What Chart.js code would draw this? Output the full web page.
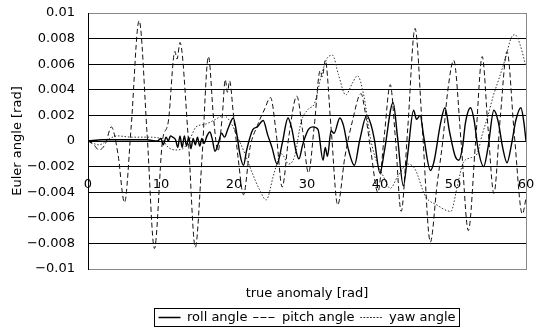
<!DOCTYPE html>
<html><head><meta charset="utf-8">
<script src="https://cdn.jsdelivr.net/npm/chart.js@4.4.1/dist/chart.umd.min.js"></script>
<style>html,body{margin:0;padding:0;background:#fff}canvas{display:block}</style>
</head><body>
<canvas id="c" width="543" height="331"></canvas>
<script>
const seriesNames = ['roll angle', 'pitch angle', 'yaw angle'];

const rollX = [0,2,4,6,8,9.5,10,10.3,10.7,11,11.3,11.6,12,12.3,12.6,12.9,13.2,13.5,13.8,14.1,14.4,14.7,15,15.3,15.6,15.9,16.3,16.7,17,17.4,17.8,18.3,18.7,19.2,19.9,20.4,20.8,21.3,21.7,22.2,22.6,23.2,24,24.6,25.2,25.9,26.6,27.4,27.9,28.5,28.9,29.4,30.2,30.8,31.5,32.2,32.5,32.8,33.3,33.7,34.5,35,35.6,36.5,37.2,38.2,38.8,39.2,40,40.6,41.8,42.4,43.2,43.8,44.6,45,45.5,46,46.9,47.4,48.3,48.9,49.5,50.3,50.8,51.3,51.7,52.4,52.9,53.4,54.2,54.8,55.6,56.2,56.8,57.4,58,58.6,59.3,59.7,60];
const rollY = [0,0.0001,0.0001,0.0001,0.0001,0,0.0002,-0.0003,0.0003,0,0.0004,0.0003,0.0001,-0.0005,0.0004,-0.0005,0.0004,-0.0004,0.0003,-0.0006,0.0002,-0.0003,0.0003,-0.0004,0.0002,-0.0002,0.0004,0.0007,0.0002,-0.0008,-0.0003,0.0006,0.0003,0.0010,0.0018,0.0005,-0.0010,-0.0019,-0.0008,0.0003,0.0009,0.0011,0.0016,0.0005,-0.0005,-0.0018,-0.0002,0.0018,0.0010,-0.0008,-0.0014,-0.0003,0.0009,0.0011,0.0009,-0.0015,-0.0005,-0.0012,0.0008,0.0006,0.0018,0.0012,-0.0005,-0.0019,0,0.0020,0.0012,0.0002,-0.0025,-0.0008,0.0030,0.0003,-0.0035,-0.0010,0.0024,0.0017,0.0020,0.0003,-0.0023,-0.0016,0.0014,0.0026,0.0008,-0.0012,-0.0015,-0.0005,0.0014,0.0026,0.0016,-0.0005,-0.0020,-0.0005,0.0024,0.0015,-0.0005,-0.0017,-0.0003,0.0016,0.0026,0.0015,0];

const pitchX = [0,0.8,1.5,2.4,3.2,4.1,5.0,5.9,7.0,8.1,9.1,10.2,11.0,11.9,12.2,12.6,13.7,14.7,15.6,16.5,17.2,17.8,18.4,18.8,19.1,19.4,19.9,20.6,21.3,22.2,23.2,24.2,25.0,25.8,26.6,27.5,28.6,29.4,30.2,31.0,31.8,32.1,32.5,33.3,34.2,35.2,36.2,37.4,37.9,38.8,39.7,40.6,41.4,42.1,42.9,43.8,44.8,45.8,46.9,47.8,48.6,49.3,50.1,51.1,52.1,53.1,54.0,54.8,55.6,56.5,57.4,58.4,59.5,60];
const pitchY = [0,-0.0003,-0.0007,-0.0002,0.0011,-0.0010,-0.0048,0.0010,0.0094,0.0005,-0.0084,0,0.0015,0.0070,0.0064,0.0077,0.0005,-0.0083,-0.0015,0.0066,0.0018,-0.0008,0.0020,0.0048,0.0038,0.0047,0.0022,-0.0015,-0.0042,-0.0005,0.0012,0.0025,0.0034,0.0005,-0.0036,0.0003,0.0035,0.0008,-0.0025,0.0012,0.0055,0.0050,0.0063,0.0010,-0.0050,-0.0012,0.0015,0.0037,0.0025,-0.0010,-0.0040,0.0005,0.0044,0.0003,-0.0055,0.0010,0.0088,0.0010,-0.0079,-0.0035,0,0.0040,0.0063,0,-0.0070,0,0.0066,0.0010,-0.0041,0.0020,0.0070,0.0005,-0.0057,-0.0045];

const yawX = [0,1.5,3,4,6,8,10,11,12,13,14,14.8,16,17.5,18.5,19.5,20.5,21.5,22.5,23.5,24.4,25.5,26.5,27.5,28.3,29.2,30.2,31,32,32.8,33.5,34.3,35.3,36.2,36.9,37.8,38.6,39.3,40.5,41.4,42.4,43.8,44.8,46.2,47.8,49.7,50.6,51.4,52.5,53.3,54,54.8,55.5,56.2,57.2,58,58.5,59.2,60];
const yawY = [0,-0.0003,0.0002,0.0004,0.0003,0.0003,0.0002,-0.0005,-0.0007,-0.0006,0.0002,0.0011,0.0013,0.0017,0.0020,0.0015,0.0003,-0.0010,-0.0025,-0.0038,-0.0046,-0.0025,-0.0010,-0.0018,-0.0012,0.0015,0.0025,0.0029,0.0052,0.0065,0.0067,0.0052,0.0036,0.0045,0.0051,0.0035,0.0005,-0.0012,-0.0028,-0.0037,-0.0028,-0.0018,-0.0022,-0.0043,-0.0050,-0.0055,-0.0035,-0.0017,-0.0013,-0.0010,0.0005,0.0020,0.0035,0.0047,0.0065,0.0081,0.0083,0.0075,0.0058];

const xTickValues = [0,10,20,30,40,50,60];
const xTickLabels = ['0','10','20','30','40','50','60'];
const yTickValues = [-0.01,-0.008,-0.006,-0.004,-0.002,0,0.002,0.004,0.006,0.008,0.01];
const yTickLabels = ['\u22120.01','\u22120.008','\u22120.006','\u22120.004','\u22120.002','0','0.002','0.004','0.006','0.008','0.01'];
const xTitle = 'true anomaly [rad]';
const yTitle = 'Euler angle [rad]';

function pts(xs, ys) { return xs.map((x, i) => ({x: x, y: ys[i]})); }

Chart.defaults.font.family = 'DejaVu Sans';
Chart.defaults.font.size = 13;
Chart.defaults.color = '#000';

const frame = {
  id: 'frame',
  afterDraw(c) {
    const ctx = c.ctx, a = c.chartArea;
    ctx.save();
    ctx.strokeStyle = '#888';
    ctx.lineWidth = 1;
    ctx.beginPath();
    const rx = Math.round(a.right) + 0.5;
    ctx.moveTo(rx, a.top); ctx.lineTo(rx, a.bottom + 0.5);
    ctx.stroke();
    const hb = c.legend.legendHitBoxes;
    if (hb && hb.length) {
      const l = Math.min(...hb.map(h => h.left)) - 5;
      const r = Math.max(...hb.map(h => h.left + h.width)) + 3;
      const t = hb[0].top - 3;
      const b = hb[0].top + hb[0].height + 2;
      ctx.strokeStyle = '#000';
      ctx.strokeRect(Math.round(l) + 0.5, Math.round(t) + 0.5, Math.round(r - l), Math.round(b - t));
    }
    ctx.restore();
  }
};

function noPad(s) { s.paddingTop = 0; s.paddingBottom = 0; s.paddingLeft = 0; s.paddingRight = 0; }

const base = {fill: false, pointRadius: 0, backgroundColor: 'rgba(0,0,0,0)', cubicInterpolationMode: 'monotone'};

new Chart(document.getElementById('c'), {
  type: 'line',
  data: {
    datasets: [
      Object.assign({label: seriesNames[0], data: pts(rollX, rollY), borderColor: '#000', borderWidth: 1.4}, base),
      Object.assign({label: seriesNames[1], data: pts(pitchX, pitchY), borderColor: '#111', borderWidth: 1, borderDash: [5, 3]}, base),
      Object.assign({label: seriesNames[2], data: pts(yawX, yawY), borderColor: '#333', borderWidth: 1, borderDash: [1.5, 1.8]}, base)
    ]
  },
  options: {
    responsive: false,
    animation: false,
    devicePixelRatio: 1,
    layout: {padding: {top: 13, right: 17, bottom: 0, left: 0}},
    plugins: {
      tooltip: {enabled: false},
      legend: {
        position: 'bottom',
        fullSize: false,
        maxHeight: 26,
        labels: {boxWidth: 22, boxHeight: 0, padding: 6, color: '#000', font: {size: 13}}
      }
    },
    scales: {
      x: {
        type: 'linear', position: 'bottom', min: 0, max: 60,
        grid: {display: false, drawTicks: false},
        border: {display: true, color: '#888'},
        ticks: {display: false},
        title: {display: true, text: xTitle, padding: {top: 4, bottom: 4}, font: {size: 13}},
        afterFit(s) { s.height = 36; noPad(s); }
      },
      xl: {
        type: 'linear', position: {y: 0}, min: 0, max: 60,
        grid: {display: false, drawTicks: false},
        border: {display: true, color: '#000'},
        afterBuildTicks(s) { s.ticks = xTickValues.map(v => ({value: v})); },
        afterFit(s) { noPad(s); },
        ticks: {padding: 36, maxRotation: 0, autoSkip: false, callback: (v, i) => xTickLabels[i]}
      },
      y: {
        type: 'linear', min: -0.01, max: 0.01,
        afterBuildTicks(s) { s.ticks = yTickValues.map(v => ({value: v})); },
        afterFit(s) { s.width = 88; noPad(s); },
        grid: {drawTicks: false, color: (ctx) => (Math.abs(Math.abs(ctx.tick.value) - 0.01) < 1e-9 ? '#888' : '#000'), lineWidth: 1},
        border: {display: true, color: '#000'},
        ticks: {padding: 13, autoSkip: false, callback: (v, i) => yTickLabels[i]},
        title: {display: true, text: yTitle, padding: {top: 10, bottom: 0}, font: {size: 13}}
      }
    }
  },
  plugins: [frame]
});
</script>
</body></html>
